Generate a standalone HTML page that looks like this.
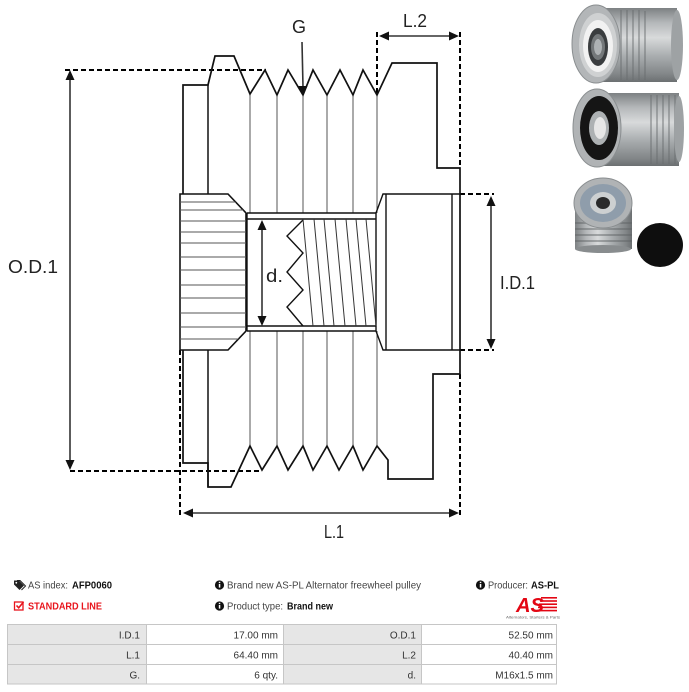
<!DOCTYPE html>
<html><head><meta charset="utf-8"><style>
html,body{margin:0;padding:0;background:#fff;}
svg{display:block;}
</style></head><body>
<svg width="689" height="692" viewBox="0 0 689 692" xmlns="http://www.w3.org/2000/svg">
<defs>
<linearGradient id="cylH" x1="0" y1="0" x2="0" y2="1">
<stop offset="0" stop-color="#7d8183"/><stop offset="0.2" stop-color="#b5b8ba"/><stop offset="0.4" stop-color="#d8dadb"/><stop offset="0.65" stop-color="#a9adaf"/><stop offset="0.9" stop-color="#818587"/><stop offset="1" stop-color="#6b6f71"/>
</linearGradient>
<linearGradient id="cylV" x1="0" y1="0" x2="1" y2="0">
<stop offset="0" stop-color="#7d8183"/><stop offset="0.2" stop-color="#b5b8ba"/><stop offset="0.4" stop-color="#d8dadb"/><stop offset="0.65" stop-color="#a9adaf"/><stop offset="0.9" stop-color="#818587"/><stop offset="1" stop-color="#6b6f71"/>
</linearGradient>
<clipPath id="hubclip"><path d="M180,194 H228 L246,213 V331 L228,350 H180 Z"/></clipPath>
</defs>

<!-- ===== Drawing ===== -->
<g fill="none" stroke="#000" stroke-width="2" stroke-dasharray="5,3">
<path d="M65,70 H266"/>
<path d="M70,471 H262"/>
<path d="M377,32 V95"/>
<path d="M460,32 V168"/>
<path d="M460,374 V516"/>
<path d="M180,350 V516"/>
<path d="M460,194 H494"/>
<path d="M460,350 H494"/>
</g>

<g stroke="#555" stroke-width="1" fill="none">
<path d="M250,95 V213 M277,95 V213 M303,95 V213 M327,95 V213 M353,95 V213 M377,95 V213"/>
<path d="M250,331 V446 M277,331 V446 M303,331 V446 M327,331 V446 M353,331 V446 M377,331 V446"/>
</g>

<path d="M183,194 V85 H208 L215,56 H234 L250,94 L265,70 L277,95 L288,70 L303,95 L313,70 L327,95 L340,70 L353,95 L363,70 L377,95 L392,63 H437 V168 H460 V374 H433 V479 H388 V460 L377,446 L363,470 L353,446 L339,470 L327,446 L313,470 L303,446 L288,470 L277,446 L262,470 L250,446 L231,487 H208 V463 H183 V350" fill="none" stroke="#111" stroke-width="1.7" stroke-linejoin="miter"/>
<path d="M208,85 V194 M208,350 V487" fill="none" stroke="#111" stroke-width="1.5"/>

<path d="M180,194 H228 L246,213 V331 L228,350 H180 Z" fill="#fff" stroke="#111" stroke-width="1.6"/>
<g clip-path="url(#hubclip)" stroke="#555" stroke-width="1">
<path d="M180,202 H250 M180,210 H250 M180,221 H250 M180,232 H250 M180,243 H250 M180,257 H250 M180,270 H250 M180,285 H250 M180,298 H250 M180,313 H250 M180,327 H250 M180,339 H250"/>
</g>

<g stroke="#111" stroke-width="1.4" fill="none">
<path d="M247,213 H376 M247,219 H376 M247,326 H376 M247,331 H376"/>
<path d="M247,213 V331 M376,213 V331"/>
<path d="M376,213 L383,194 H460 M376,331 L383,350 H460"/>
<path d="M386,194 V350 M452,194 V350"/>
<path d="M303,220 L287,236 L303,253 L287,272 L303,290 L287,307 L303,326"/>
</g>
<g stroke="#333" stroke-width="1" fill="none">
<path d="M303,219 L313,326 M314,219 L324,326 M324,219 L334,326 M335,219 L345,326 M346,219 L356,326 M356,219 L366,326 M366,219 L376,326"/>
</g>

<g stroke="#333" stroke-width="1.6" fill="none">
<path d="M70,78 V462"/>
<path d="M262,229 V317"/>
<path d="M302,42 L303,87"/>
<path d="M388,36 H450"/>
<path d="M192,513 H450"/>
<path d="M491,204 V340"/>
</g>
<g fill="#111">
<polygon points="70,70 65.5,80 74.5,80"/>
<polygon points="70,470 65.5,460 74.5,460"/>
<polygon points="262,220 257.5,230 266.5,230"/>
<polygon points="262,326 257.5,316 266.5,316"/>
<polygon points="303,96 298.5,86 307.5,86"/>
<polygon points="379,36 389,31.5 389,40.5"/>
<polygon points="459,36 449,31.5 449,40.5"/>
<polygon points="183,513 193,508.5 193,517.5"/>
<polygon points="459,513 449,508.5 449,517.5"/>
<polygon points="491,196 486.5,206 495.5,206"/>
<polygon points="491,349 486.5,339 495.5,339"/>
</g>

<g font-family="'Liberation Sans', sans-serif" font-size="18" fill="#222">
<text x="8" y="273" textLength="50" lengthAdjust="spacingAndGlyphs">O.D.1</text>
<text x="292" y="33">G</text>
<text x="403" y="27" textLength="24" lengthAdjust="spacingAndGlyphs">L.2</text>
<text x="324" y="538" textLength="20" lengthAdjust="spacingAndGlyphs">L.1</text>
<text x="266" y="282" textLength="17" lengthAdjust="spacingAndGlyphs">d.</text>
<text x="500" y="289" textLength="35" lengthAdjust="spacingAndGlyphs">I.D.1</text>
</g>

<!-- ===== Photos ===== -->
<rect x="596" y="8" width="81" height="74" fill="url(#cylH)"/>
<g fill="#6a6e70" opacity="0.45">
<rect x="620" y="10" width="2" height="70"/><rect x="626" y="10" width="2" height="70"/><rect x="632" y="10" width="2" height="70"/><rect x="638" y="10" width="2" height="70"/><rect x="644" y="11" width="2" height="69"/>
</g>
<ellipse cx="677" cy="45" rx="6" ry="35" fill="#9ea2a4"/>
<ellipse cx="596" cy="44" rx="24" ry="39" fill="#b3b6b8" stroke="#8a8e90" stroke-width="1"/>
<ellipse cx="598" cy="45" rx="19" ry="32" fill="#cfd1d2"/>
<ellipse cx="598" cy="46" rx="15" ry="26" fill="#f2f2f2"/>
<ellipse cx="598" cy="47" rx="10" ry="19" fill="#3a3d3f"/>
<ellipse cx="598" cy="47" rx="7" ry="13" fill="#74787a"/>
<ellipse cx="598" cy="47" rx="4" ry="8" fill="#aeb2b4"/>

<rect x="597" y="93" width="82" height="73" fill="url(#cylH)"/>
<g fill="#6a6e70" opacity="0.45">
<rect x="650" y="95" width="2" height="69"/><rect x="656" y="95" width="2" height="69"/><rect x="662" y="95" width="2" height="69"/><rect x="668" y="95" width="2" height="69"/><rect x="674" y="95" width="2" height="69"/>
</g>
<ellipse cx="679" cy="129" rx="5" ry="33" fill="#9ea2a4"/>
<ellipse cx="597" cy="128" rx="24" ry="39" fill="#b0b3b5" stroke="#8a8e90" stroke-width="1"/>
<ellipse cx="599" cy="128" rx="19" ry="32" fill="#151515"/>
<ellipse cx="599" cy="128" rx="10" ry="17" fill="#adb1b3"/>
<ellipse cx="600" cy="128" rx="6" ry="11" fill="#e6e6e6"/>

<rect x="575" y="203" width="57" height="46" fill="url(#cylV)"/>
<g fill="#5d6163" opacity="0.45">
<rect x="575" y="222" width="57" height="2"/><rect x="575" y="228" width="57" height="2"/><rect x="575" y="234" width="57" height="2"/><rect x="575" y="240" width="57" height="2"/>
</g>
<ellipse cx="603" cy="249" rx="28" ry="4" fill="#888c8e"/>
<ellipse cx="603" cy="203" rx="29" ry="25" fill="#b0b3b5" stroke="#8a8e90" stroke-width="1"/>
<ellipse cx="603" cy="203" rx="23" ry="19" fill="#8f9dab"/>
<ellipse cx="603" cy="203" rx="13" ry="11" fill="#cdd0d1"/>
<ellipse cx="603" cy="203" rx="7" ry="6" fill="#2a2a2a"/>
<ellipse cx="660" cy="245" rx="23" ry="22" fill="#0e0e0e"/>

<!-- ===== Info ===== -->
<path d="M14,580.5 H19 L24,585.5 L19.5,590 L14,584.5 Z" fill="#222"/>
<path d="M17,580.5 H20 L25.5,586 L21.5,590" fill="none" stroke="#222" stroke-width="1"/>
<circle cx="16.3" cy="582.8" r="0.9" fill="#fff"/>
<rect x="14.5" y="602" width="8.5" height="8" fill="none" stroke="#e8141c" stroke-width="1.3"/>
<path d="M16.5,605.5 L18.7,607.8 L23.5,602" fill="none" stroke="#e8141c" stroke-width="1.6"/>
<g>
<circle cx="219.5" cy="585" r="4.6" fill="#111"/><rect x="218.8" y="584" width="1.5" height="3.6" fill="#fff"/><rect x="218.8" y="581.8" width="1.5" height="1.3" fill="#fff"/>
<circle cx="219.5" cy="606" r="4.6" fill="#111"/><rect x="218.8" y="605" width="1.5" height="3.6" fill="#fff"/><rect x="218.8" y="602.8" width="1.5" height="1.3" fill="#fff"/>
<circle cx="480.5" cy="585" r="4.6" fill="#111"/><rect x="479.8" y="584" width="1.5" height="3.6" fill="#fff"/><rect x="479.8" y="581.8" width="1.5" height="1.3" fill="#fff"/>
</g>

<g font-family="'Liberation Sans', sans-serif" font-size="10">
<text x="28" y="588.5" fill="#444" textLength="40" lengthAdjust="spacingAndGlyphs">AS index:</text>
<text x="72" y="588.5" fill="#111" font-weight="bold" textLength="40" lengthAdjust="spacingAndGlyphs">AFP0060</text>
<text x="28" y="609.5" fill="#e8141c" font-weight="bold" textLength="74" lengthAdjust="spacingAndGlyphs">STANDARD LINE</text>
<text x="227" y="588.5" fill="#444" textLength="194" lengthAdjust="spacingAndGlyphs">Brand new AS-PL Alternator freewheel pulley</text>
<text x="227" y="609.5" fill="#444" textLength="56" lengthAdjust="spacingAndGlyphs">Product type:</text>
<text x="287" y="609.5" fill="#111" font-weight="bold" textLength="46" lengthAdjust="spacingAndGlyphs">Brand new</text>
<text x="488" y="588.5" fill="#444" textLength="40" lengthAdjust="spacingAndGlyphs">Producer:</text>
<text x="531" y="588.5" fill="#111" font-weight="bold" textLength="28" lengthAdjust="spacingAndGlyphs">AS-PL</text>
</g>

<g fill="#e30613">
<rect x="541" y="597" width="16" height="1.6"/><rect x="540" y="600.2" width="17" height="1.6"/><rect x="539" y="603.4" width="18" height="1.6"/><rect x="538" y="606.6" width="19" height="1.6"/><rect x="537" y="609.8" width="20" height="1.6"/>
<text x="516" y="612" font-family="'Liberation Sans', sans-serif" font-size="20" font-weight="bold" font-style="italic" textLength="28" lengthAdjust="spacingAndGlyphs">AS</text>
</g>
<text x="506" y="618.5" font-family="'Liberation Sans', sans-serif" font-size="4" fill="#666" textLength="54" lengthAdjust="spacingAndGlyphs">Alternators, Starters &amp; Parts</text>

<rect x="7" y="624" width="139" height="60" fill="#e6e6e6"/>
<rect x="146" y="624" width="137" height="60" fill="#fff"/>
<rect x="283" y="624" width="138" height="60" fill="#e6e6e6"/>
<rect x="421" y="624" width="136" height="60" fill="#fff"/>
<g stroke="#c6c6c6" stroke-width="1" fill="none">
<rect x="7.5" y="624.5" width="549" height="59.5"/>
<path d="M7,644.5 H557 M7,664.5 H557"/>
<path d="M146.5,624 V684 M283.5,624 V684 M421.5,624 V684"/>
</g>
<g font-family="'Liberation Sans', sans-serif" font-size="10" fill="#333" text-anchor="end">
<text x="140" y="638.5">I.D.1</text>
<text x="278" y="638.5">17.00 mm</text>
<text x="416" y="638.5">O.D.1</text>
<text x="553" y="638.5">52.50 mm</text>
<text x="140" y="658.5">L.1</text>
<text x="278" y="658.5">64.40 mm</text>
<text x="416" y="658.5">L.2</text>
<text x="553" y="658.5">40.40 mm</text>
<text x="140" y="678.5">G.</text>
<text x="278" y="678.5">6 qty.</text>
<text x="416" y="678.5">d.</text>
<text x="553" y="678.5">M16x1.5 mm</text>
</g>
</svg>
</body></html>
